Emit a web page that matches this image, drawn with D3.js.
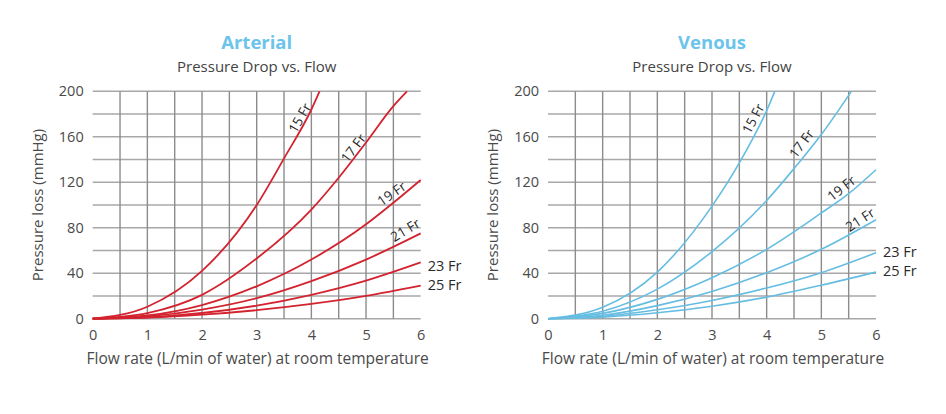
<!DOCTYPE html>
<html>
<head>
<meta charset="utf-8">
<script src="https://cdn.jsdelivr.net/npm/d3@7/dist/d3.min.js"></script>
<style>
  html, body { margin: 0; padding: 0; background: #fff; }
  svg { display: block; }
  text { font-family: "Open Sans", "Noto Sans", sans-serif; }
</style>
</head>
<body>
<svg id="chart" width="946" height="414"></svg>
<script>
// ---------- DATA ----------
const flowTicks = [0, 1, 2, 3, 4, 5, 6];
const pressureTicks = [0, 40, 80, 120, 160, 200];
const sizeLabels = ["15 Fr", "17 Fr", "19 Fr", "21 Fr", "23 Fr", "25 Fr"];

// Arterial cannula: [flow L/min, pressure loss mmHg]
const arterial15 = [[0,0],[1,10.5],[2,42],[3,100],[3.5,141],[4,184],[4.15,200]];
const arterial17 = [[0,0],[1,5],[2,21],[3,53],[4,96],[4.5,124],[5,155],[5.5,187],[5.75,200]];
const arterial19 = [[0,0],[1,2.8],[2,12],[3,28.5],[4,52],[5,83],[5.5,102],[6,122]];
const arterial21 = [[0,0],[1,2],[2,8],[3,18],[4,33],[5,52],[6,75]];
const arterial23 = [[0,0],[1,1.2],[2,5],[3,11.5],[4,21],[5,33.5],[6,49.5]];
const arterial25 = [[0,0],[1,0.9],[2,3.5],[3,7.5],[4,13],[5,20],[6,29]];

// Venous cannula
const venous15 = [[0,0],[1,10],[2,41],[3,99],[3.5,137],[4,183],[4.15,200]];
const venous17 = [[0,0],[1,6.5],[2,26],[3,59],[4,104],[4.5,132],[5,162],[5.55,200]];
const venous19 = [[0,0],[1,4.7],[2,17],[3,36],[4,61],[5,93],[5.5,110],[6,131]];
const venous21 = [[0,0],[1,3],[2,11.5],[3,24],[4,40.5],[5,61],[6,87]];
const venous23 = [[0,0],[1,2],[2,7.8],[3,16],[4,27],[5,40.5],[6,58]];
const venous25 = [[0,0],[1,1.4],[2,5.2],[3,11],[4,19],[5,29.5],[6,41]];

// Label anchors (in data units) and rotation
const arterialLabelPos = [[3.79,176.5,-60],[4.77,150,-53],[5.47,110,-35],[5.72,78,-31],[6,46,0],[6,29.5,0]];
const venousLabelPos   = [[3.755,176,-62],[4.64,154,-53],[5.37,114.7,-38],[5.71,87,-33],[6,59,0],[6,42.2,0]];

// ---------- DRAW ----------
const svg = d3.select("#chart");

function drawPanel(opts) {
  const x = d3.scaleLinear().domain([0, 6]).range([opts.x0, opts.x0 + 328]);
  const y = d3.scaleLinear().domain([0, 200]).range([318.7, 91.3]);
  const g = svg.append("g");

  // grid
  g.append("g").selectAll("line.h").data(d3.range(0, 201, 20)).join("line")
    .attr("x1", x(0)).attr("x2", x(6))
    .attr("y1", d => y(d)).attr("y2", d => y(d))
    .attr("stroke", "#a8a8a8").attr("stroke-width", 1.4);
  g.append("g").selectAll("line.v").data(d3.range(0.5, 6, 0.5)).join("line")
    .attr("x1", d => x(d)).attr("x2", d => x(d))
    .attr("y1", y(0)).attr("y2", y(200))
    .attr("stroke", "#8c8c8c").attr("stroke-width", 1.4);

  // axes (labels only)
  const xAxis = d3.axisBottom(x).tickValues(flowTicks).tickSize(0).tickPadding(0).tickFormat(d3.format("d"));
  const xa = g.append("g").attr("transform", `translate(0,${y(0) + 21})`).call(xAxis);
  xa.select(".domain").remove();
  xa.selectAll("text").attr("font-size", 14.5).attr("fill", "#4a4a4a").attr("dy", 0)
    .style("font-family", '"Open Sans", sans-serif');

  const yAxis = d3.axisLeft(y).tickValues(pressureTicks).tickSize(0).tickPadding(0);
  const ya = g.append("g").attr("transform", `translate(${x(0) - 9},0)`).call(yAxis);
  ya.select(".domain").remove();
  ya.selectAll("text").attr("font-size", 14.5).attr("fill", "#4a4a4a")
    .style("font-family", '"Open Sans", sans-serif');

  // axis titles
  g.append("text").attr("x", x(3) + 1).attr("y", 364)
    .attr("text-anchor", "middle").attr("font-size", 15.5).attr("fill", "#4a4a4a")
    .text("Flow rate (L/min of water) at room temperature");
  g.append("text")
    .attr("transform", `translate(${x(0) - 55},${(y(0) + y(200)) / 2}) rotate(-90)`)
    .attr("text-anchor", "middle").attr("dy", "0.35em").attr("font-size", 15).attr("fill", "#4a4a4a")
    .text("Pressure loss (mmHg)");

  // titles
  g.append("text").attr("x", x(3)).attr("y", 49).attr("text-anchor", "middle")
    .attr("font-size", 18.5).attr("font-weight", "bold").attr("fill", opts.titleColor)
    .text(opts.title);
  g.append("text").attr("x", x(3)).attr("y", 71.5).attr("text-anchor", "middle")
    .attr("font-size", 15).attr("fill", "#444")
    .text("Pressure Drop vs. Flow");

  // curves
  const line = d3.line().x(d => x(d[0])).y(d => y(d[1])).curve(d3.curveMonotoneX);
  g.append("g").selectAll("path").data(opts.series).join("path")
    .attr("d", line).attr("fill", "none")
    .attr("stroke", opts.lineColor).attr("stroke-width", opts.lineWidth);

  // curve labels
  g.append("g").selectAll("text").data(opts.labels).join("text")
    .attr("transform", (d, i) => d[2] === 0
      ? `translate(${x(d[0]) + 7},${y(d[1])})`
      : `translate(${x(d[0])},${y(d[1])}) rotate(${d[2]})`)
    .attr("text-anchor", d => d[2] === 0 ? "start" : "middle")
    .attr("dy", "0.35em")
    .attr("font-size", d => d[2] === 0 ? 14.5 : 13.5)
    .attr("fill", "#2a2a2a")
    .text((d, i) => sizeLabels[i]);
}

drawPanel({
  x0: 92.7, title: "Arterial", titleColor: "#6cc4ea",
  lineColor: "#d3232f", lineWidth: 1.8,
  series: [arterial15, arterial17, arterial19, arterial21, arterial23, arterial25],
  labels: arterialLabelPos
});
drawPanel({
  x0: 548, title: "Venous", titleColor: "#6cc4ea",
  lineColor: "#66bde2", lineWidth: 1.6,
  series: [venous15, venous17, venous19, venous21, venous23, venous25],
  labels: venousLabelPos
});
</script>
</body>
</html>
